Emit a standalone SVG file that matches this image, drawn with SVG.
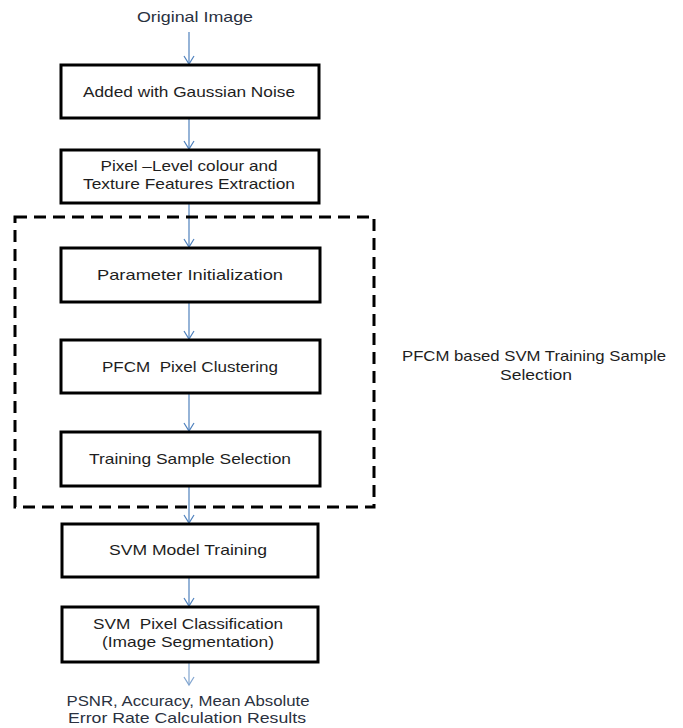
<svg xmlns="http://www.w3.org/2000/svg" width="683" height="728" viewBox="0 0 683 728">
<style>
.box{fill:#fff;stroke:#000;stroke-width:3}
.t{font-family:"Liberation Sans",Arial,sans-serif;font-size:15px;fill:#1e1e1e;text-anchor:middle;white-space:pre}
.o{fill:#2a3140}
.c{stroke:#4f81bd;stroke-width:1.2;fill:none}
</style>
<defs>
<marker id="ah" markerWidth="12" markerHeight="12" refX="9" refY="6" orient="auto" markerUnits="userSpaceOnUse" viewBox="0 0 12 12">
<path d="M1,1 L9,6 L1,11" fill="none" stroke="#4f81bd" stroke-width="1.2"/>
</marker>
</defs>
<rect x="0" y="0" width="683" height="728" fill="#fff"/>
<g id="connectors">
<line class="c" x1="189" y1="32" x2="189" y2="64" marker-end="url(#ah)"/>
<line class="c" x1="189" y1="119" x2="189" y2="149" marker-end="url(#ah)"/>
<line class="c" x1="189" y1="204" x2="189" y2="247" marker-end="url(#ah)"/>
<line class="c" x1="189" y1="303" x2="189" y2="339" marker-end="url(#ah)"/>
<line class="c" x1="189" y1="394" x2="189" y2="431" marker-end="url(#ah)"/>
<line class="c" x1="189" y1="487" x2="189" y2="523" marker-end="url(#ah)"/>
<line class="c" x1="189" y1="578" x2="189" y2="606" marker-end="url(#ah)"/>
<line class="c" x1="189" y1="663" x2="189" y2="685" marker-end="url(#ah)" opacity="0.7"/>
</g>
<g id="group-pfcm">
<rect x="15" y="217" width="359" height="290" fill="none" stroke="#000" stroke-width="3" stroke-dasharray="12 7"/>
<text class="t" x="534" y="361" textLength="264" lengthAdjust="spacingAndGlyphs">PFCM based SVM Training Sample</text>
<text class="t" x="536" y="380" textLength="72" lengthAdjust="spacingAndGlyphs">Selection</text>
</g>
<g id="original">
<text class="t o" x="195" y="22" textLength="116" lengthAdjust="spacingAndGlyphs">Original Image</text>
</g>
<g id="noise">
<rect class="box" x="61" y="65" width="258" height="53"/>
<text class="t" x="189" y="97" textLength="212" lengthAdjust="spacingAndGlyphs">Added with Gaussian Noise</text>
</g>
<g id="features">
<rect class="box" x="61" y="150" width="258" height="53"/>
<text class="t" x="189" y="171" textLength="177" lengthAdjust="spacingAndGlyphs">Pixel –Level colour and</text>
<text class="t" x="189" y="189" textLength="212" lengthAdjust="spacingAndGlyphs">Texture Features Extraction</text>
</g>
<g id="param">
<rect class="box" x="61" y="248" width="259" height="54"/>
<text class="t" x="190" y="280" textLength="186" lengthAdjust="spacingAndGlyphs">Parameter Initialization</text>
</g>
<g id="pfcm">
<rect class="box" x="61" y="340" width="259" height="53"/>
<text class="t" x="190" y="372" textLength="176" lengthAdjust="spacingAndGlyphs" xml:space="preserve">PFCM  Pixel Clustering</text>
</g>
<g id="training">
<rect class="box" x="61" y="432" width="259" height="54"/>
<text class="t" x="190" y="464" textLength="202" lengthAdjust="spacingAndGlyphs">Training Sample Selection</text>
</g>
<g id="svmtrain">
<rect class="box" x="62" y="524" width="256" height="53"/>
<text class="t" x="188" y="555" textLength="158" lengthAdjust="spacingAndGlyphs">SVM Model Training</text>
</g>
<g id="svmclass">
<rect class="box" x="62" y="607" width="256" height="55"/>
<text class="t" x="188" y="629" textLength="190" lengthAdjust="spacingAndGlyphs" xml:space="preserve">SVM  Pixel Classification</text>
<text class="t" x="188" y="647" textLength="172" lengthAdjust="spacingAndGlyphs">(Image Segmentation)</text>
</g>
<g id="results">
<text class="t o" x="188" y="706" textLength="243" lengthAdjust="spacingAndGlyphs">PSNR, Accuracy, Mean Absolute</text>
<text class="t o" x="187" y="723" textLength="238" lengthAdjust="spacingAndGlyphs">Error Rate Calculation Results</text>
</g>
</svg>
